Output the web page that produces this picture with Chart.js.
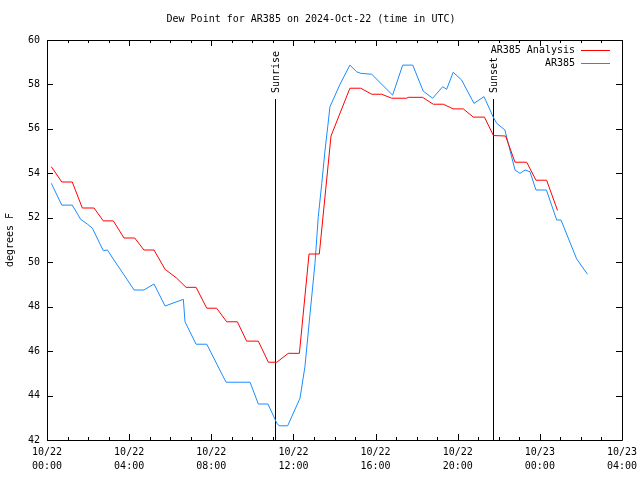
<!DOCTYPE html>
<html>
<head>
<meta charset="utf-8">
<script src="https://cdn.jsdelivr.net/npm/chart.js@4"></script>
<style>
  html, body { margin: 0; padding: 0; background: #fff; }
  canvas { display: block; }
</style>
</head>
<body>
<canvas id="chart" width="640" height="480"></canvas>
<script>
// times are hours after 10/22 00:00 UTC
const analysisHours = [0.21, 0.72, 1.23, 1.72, 2.29, 2.74, 3.23, 3.75, 4.27, 4.72, 5.21, 5.75, 6.32, 6.77, 7.26, 7.78, 8.26, 8.75, 9.27, 9.72, 10.29, 10.78, 11.19, 11.75, 12.29, 12.76, 13.26, 13.83, 14.75, 15.28, 15.81, 16.30, 16.78, 17.52, 17.59, 18.29, 18.81, 19.30, 19.78, 20.27, 20.76, 21.30, 21.74, 22.33, 22.79, 23.36, 23.81, 24.33, 24.86];
const analysisValues = [54.30, 53.61, 53.61, 52.44, 52.44, 51.86, 51.86, 51.09, 51.09, 50.55, 50.55, 49.68, 49.28, 48.87, 48.87, 47.93, 47.93, 47.32, 47.32, 46.45, 46.45, 45.50, 45.50, 45.90, 45.90, 50.37, 50.37, 55.68, 57.83, 57.83, 57.56, 57.56, 57.38, 57.38, 57.42, 57.42, 57.11, 57.11, 56.90, 56.90, 56.53, 56.53, 55.70, 55.68, 54.50, 54.50, 53.69, 53.69, 52.33];

const obsHours = [0.21, 0.72, 1.23, 1.64, 1.96, 2.21, 2.74, 2.94, 3.26, 3.75, 4.24, 4.72, 5.21, 5.75, 6.64, 6.72, 7.26, 7.78, 8.72, 9.89, 10.29, 10.76, 11.19, 11.30, 11.72, 12.32, 12.56, 12.81, 13.05, 13.21, 13.38, 13.54, 13.67, 13.78, 14.27, 14.75, 15.08, 15.28, 15.81, 16.83, 17.32, 17.81, 18.32, 18.78, 19.27, 19.46, 19.78, 20.19, 20.79, 21.28, 21.73, 21.90, 22.30, 22.46, 22.79, 23.03, 23.28, 23.52, 23.81, 24.32, 24.82, 25.03, 25.79, 26.32];
const obsValues = [53.55, 52.57, 52.57, 51.93, 51.72, 51.53, 50.52, 50.55, 50.10, 49.43, 48.75, 48.75, 49.02, 48.03, 48.33, 47.32, 46.31, 46.31, 44.60, 44.60, 43.62, 43.62, 42.76, 42.64, 42.64, 43.88, 45.30, 47.70, 49.95, 52.05, 53.55, 55.05, 56.10, 57.00, 58.01, 58.87, 58.57, 58.50, 58.46, 57.52, 58.87, 58.87, 57.70, 57.38, 57.90, 57.78, 58.55, 58.20, 57.15, 57.45, 56.53, 56.25, 55.95, 55.35, 54.15, 54.00, 54.15, 54.07, 53.25, 53.25, 51.90, 51.90, 50.15, 49.46];

const xTickLabels = [["10/22", "00:00"], ["10/22", "04:00"], ["10/22", "08:00"], ["10/22", "12:00"],
                     ["10/22", "16:00"], ["10/22", "20:00"], ["10/23", "00:00"], ["10/23", "04:00"]];
const sunLabels = ["Sunrise", "Sunset"];
const sunHours = [11.12, 21.72];

const FONT = '"DejaVu Sans Mono", "Liberation Mono", monospace';

function toPoints(xs, ys) {
  return xs.map((x, i) => ({ x: x, y: ys[i] }));
}

// gnuplot-like frame: border, inward ticks on all sides, sun lines, key
const frame = {
  id: "frame",
  beforeDatasetsDraw(chart) {
    const ctx = chart.ctx;
    const { top, bottom } = chart.chartArea;
    const xs = chart.scales.x;
    ctx.save();
    ctx.strokeStyle = "#000";
    ctx.fillStyle = "#000";
    ctx.lineWidth = 1;
    ctx.font = "10px " + FONT;
    sunHours.forEach((h, i) => {
      const px = Math.round(xs.getPixelForValue(h)) + 0.5;
      ctx.beginPath();
      ctx.moveTo(px, top + 59);
      ctx.lineTo(px, bottom);
      ctx.stroke();
      ctx.save();
      ctx.translate(px + 1, top + 53);
      ctx.rotate(-Math.PI / 2);
      ctx.textAlign = "left";
      ctx.textBaseline = "middle";
      ctx.fillText(sunLabels[i], 0, 0);
      ctx.restore();
    });
    ctx.restore();
  },
  afterDatasetsDraw(chart) {
    const ctx = chart.ctx;
    const { left, right, top, bottom } = chart.chartArea;
    const xs = chart.scales.x, ys = chart.scales.y;
    ctx.save();
    ctx.strokeStyle = "#000";
    ctx.lineWidth = 1;
    ctx.beginPath();
    ctx.rect(left + 0.5, top + 0.5, right - left, bottom - top);
    for (let h = xs.min; h <= xs.max; h++) {
      const px = Math.round(xs.getPixelForValue(h)) + 0.5;
      const len = h % 4 === 0 ? 6 : 3;
      ctx.moveTo(px, bottom); ctx.lineTo(px, bottom - len);
      ctx.moveTo(px, top); ctx.lineTo(px, top + len);
    }
    ys.ticks.forEach(t => {
      const py = Math.round(ys.getPixelForValue(t.value)) + 0.5;
      ctx.moveTo(left, py); ctx.lineTo(left + 6, py);
      ctx.moveTo(right, py); ctx.lineTo(right - 6, py);
    });
    ctx.stroke();

    // key
    ctx.font = "10px " + FONT;
    ctx.textAlign = "right";
    ctx.textBaseline = "middle";
    chart.data.datasets.forEach((ds, i) => {
      const y = top + 10 + i * 13;
      ctx.fillStyle = "#000";
      ctx.fillText(ds.label, right - 47, y);
      ctx.strokeStyle = ds.borderColor;
      ctx.beginPath();
      ctx.moveTo(right - 41, Math.round(y) + 0.5);
      ctx.lineTo(right - 12, Math.round(y) + 0.5);
      ctx.stroke();
    });
    ctx.restore();
  }
};

new Chart(document.getElementById("chart"), {
  type: "line",
  data: {
    datasets: [
      {
        label: "AR385 Analysis",
        data: toPoints(analysisHours, analysisValues),
        borderColor: "#ff0000",
        borderWidth: 1,
        pointRadius: 0,
        tension: 0
      },
      {
        label: "AR385",
        data: toPoints(obsHours, obsValues),
        borderColor: "#1a8cff",
        borderWidth: 1,
        pointRadius: 0,
        tension: 0
      }
    ]
  },
  options: {
    responsive: false,
    animation: false,
    devicePixelRatio: 1,
    layout: { padding: { left: 0, right: 18, top: 0, bottom: 0 } },
    plugins: {
      legend: { display: false },
      tooltip: { enabled: false },
      title: {
        display: true,
        text: "Dew Point for AR385 on 2024-Oct-22 (time in UTC)",
        color: "#000",
        font: { family: FONT, size: 10, weight: "normal", lineHeight: 1.2 },
        padding: { top: 13, bottom: 15 }
      }
    },
    scales: {
      x: {
        type: "linear",
        min: 0,
        max: 28,
        grid: { display: false, drawTicks: false },
        border: { display: false },
        afterFit: s => { s.height = 40; s.paddingLeft = 0; s.paddingRight = 0; },
        ticks: {
          stepSize: 4,
          autoSkip: false,
          maxRotation: 0,
          padding: 5,
          color: "#000",
          font: { family: FONT, size: 10, lineHeight: 1.4 },
          callback: v => xTickLabels[v / 4]
        }
      },
      y: {
        min: 42,
        max: 60,
        grid: { display: false, drawTicks: false },
        border: { display: false },
        afterFit: s => { s.width = 47; },
        title: {
          display: true,
          text: "degrees F",
          color: "#000",
          font: { family: FONT, size: 10 },
          padding: { top: 4, bottom: 0 }
        },
        ticks: {
          stepSize: 2,
          padding: 7,
          color: "#000",
          font: { family: FONT, size: 10 }
        }
      }
    }
  },
  plugins: [frame]
});
</script>
</body>
</html>
